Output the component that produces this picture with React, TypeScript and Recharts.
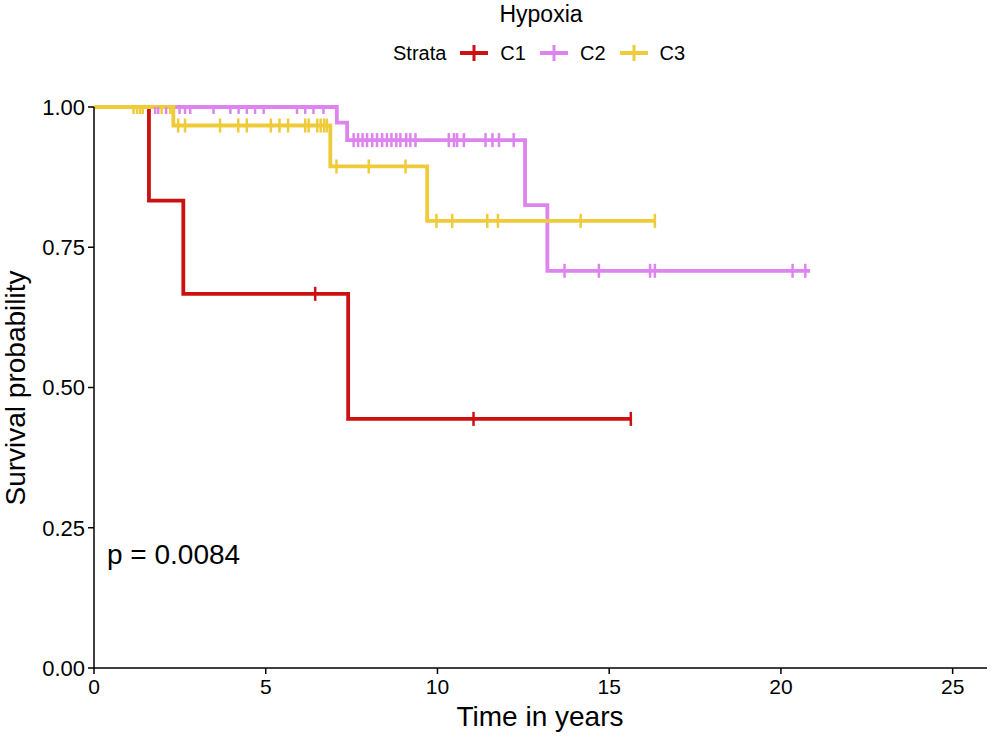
import React from 'react';
import { ComposedChart, Line, Scatter, XAxis, YAxis } from 'recharts';

// ---- data ----
const c1StepTimes = [0, 1.6, 2.6, 7.4, 15.63];
const c1StepValues = [1.0, 0.833, 0.667, 0.444, 0.444];
const c1Censor = [6.44, 11.05, 15.63];

const c2StepTimes = [0, 7.07, 7.37, 12.55, 13.2, 20.85];
const c2StepValues = [1.0, 0.972, 0.941, 0.825, 0.708, 0.708];
const c2Censor = [
  1.78, 1.87, 2.1, 2.49, 2.65, 2.8, 3.48, 3.97, 4.21, 4.45, 4.69, 4.94, 5.91, 6.15, 6.39, 6.68,
  7.56, 7.69, 7.82, 7.95, 8.1, 8.24, 8.39, 8.53, 8.66, 8.8, 8.92, 9.09, 9.21, 9.36,
  10.33, 10.48, 10.57, 10.77, 11.4, 11.6, 11.79, 12.22,
  13.7, 14.7, 16.19, 16.33, 20.34, 20.71,
];

const c3StepTimes = [0, 2.31, 6.88, 9.7, 16.35];
const c3StepValues = [1.0, 0.967, 0.894, 0.797, 0.797];
const c3Censor = [
  1.15, 1.25, 1.34, 1.42, 1.97, 2.22,
  2.45, 2.65, 3.67, 4.2, 4.45, 5.15, 5.4, 5.65, 6.15, 6.25, 6.5, 6.6, 6.7, 6.78,
  7.06, 8.0, 9.07,
  9.97, 10.43, 11.45, 11.76, 14.17, 16.33,
];

const xTicks = [0, 5, 10, 15, 20, 25];
const yTicks = [0, 0.25, 0.5, 0.75, 1];

const COLORS = { C1: '#CC1111', C2: '#DE84EE', C3: '#EFCB3A' };

// ---- helpers ----
const stepData = (t: number[], v: number[]) => t.map((x, i) => ({ x, y: v[i] }));
const survAt = (t: number[], v: number[], time: number) => {
  let val = v[0];
  for (let i = 0; i < t.length; i++) if (t[i] <= time) val = v[i];
  return val;
};
const censorData = (t: number[], v: number[], c: number[]) => c.map((x) => ({ x, y: survAt(t, v, x) }));

const c1Line = stepData(c1StepTimes, c1StepValues);
const c2Line = stepData(c2StepTimes, c2StepValues);
const c3Line = stepData(c3StepTimes, c3StepValues);
const c1Pts = censorData(c1StepTimes, c1StepValues, c1Censor);
const c2Pts = censorData(c2StepTimes, c2StepValues, c2Censor);
const c3Pts = censorData(c3StepTimes, c3StepValues, c3Censor);

const makeTick = (color: string) => (props: any) => {
  const { cx, cy, payload } = props;
  if (cx == null || cy == null) return <g />;
  const top = payload && payload.y >= 1 ? cy : cy - 7;
  return <line x1={cx} x2={cx} y1={top} y2={cy + 7} stroke={color} strokeWidth={2.5} />;
};

const FONT = '"Liberation Sans", Arial, Helvetica, sans-serif';

const LegendKey = ({ color }: { color: string }) => (
  <svg width={30} height={22} style={{ display: 'block' }}>
    <line x1={1} x2={29} y1={11} y2={11} stroke={color} strokeWidth={4} />
    <line x1={15} x2={15} y1={3} y2={19} stroke={color} strokeWidth={3} />
  </svg>
);

export default function App() {
  return (
    <div style={{ position: 'absolute', left: 0, top: 0, width: 997, height: 739, background: '#fff', fontFamily: FONT }}>
      <ComposedChart
        width={997}
        height={739}
        margin={{ top: 107, right: 10, bottom: 41, left: 30 }}
      >
        <XAxis
          dataKey="x"
          type="number"
          domain={[0, 26]}
          allowDataOverflow
          ticks={xTicks}
          tick={{ fill: '#000', fontSize: 21, fontFamily: FONT }}
          tickSize={6}
          tickMargin={5}
          height={30}
          axisLine={{ stroke: '#000', strokeWidth: 1.5 }}
          tickLine={{ stroke: '#000', strokeWidth: 1.5 }}
        />
        <YAxis
          type="number"
          domain={[0, 1]}
          ticks={yTicks}
          tickFormatter={(v: number) => v.toFixed(2)}
          tick={{ fill: '#000', fontSize: 22, fontFamily: FONT }}
          tickSize={6}
          tickMargin={3}
          width={64}
          axisLine={{ stroke: '#000', strokeWidth: 1.5 }}
          tickLine={{ stroke: '#000', strokeWidth: 1.5 }}
        />
        <Line data={c1Line} dataKey="y" type="stepAfter" stroke={COLORS.C1} strokeWidth={3.8} dot={false} isAnimationActive={false} />
        <Line data={c2Line} dataKey="y" type="stepAfter" stroke={COLORS.C2} strokeWidth={3.8} dot={false} isAnimationActive={false} />
        <Line data={c3Line} dataKey="y" type="stepAfter" stroke={COLORS.C3} strokeWidth={3.8} dot={false} isAnimationActive={false} />
        <Scatter data={c1Pts} dataKey="y" shape={makeTick(COLORS.C1)} isAnimationActive={false} />
        <Scatter data={c2Pts} dataKey="y" shape={makeTick(COLORS.C2)} isAnimationActive={false} />
        <Scatter data={c3Pts} dataKey="y" shape={makeTick(COLORS.C3)} isAnimationActive={false} />
      </ComposedChart>

      {/* Title */}
      <div style={{ position: 'absolute', left: 441, width: 200, top: 1, textAlign: 'center', fontSize: 23, color: '#000' }}>Hypoxia</div>

      {/* Legend */}
      <div style={{ position: 'absolute', left: 393, top: 41, display: 'flex', alignItems: 'center', fontSize: 20, color: '#000', height: 24 }}>
        <span style={{ marginRight: 13 }}>Strata</span>
        <LegendKey color={COLORS.C1} />
        <span style={{ marginLeft: 11, marginRight: 13 }}>C1</span>
        <LegendKey color={COLORS.C2} />
        <span style={{ marginLeft: 11, marginRight: 13 }}>C2</span>
        <LegendKey color={COLORS.C3} />
        <span style={{ marginLeft: 11 }}>C3</span>
      </div>

      {/* p-value */}
      <div style={{ position: 'absolute', left: 107, top: 539, fontSize: 28, color: '#000' }}>p = 0.0084</div>

      {/* Axis titles */}
      <div style={{ position: 'absolute', left: 390, width: 300, top: 701, textAlign: 'center', fontSize: 28, color: '#000' }}>Time in years</div>
      <div
        style={{
          position: 'absolute',
          left: 16,
          top: 388,
          transform: 'translate(-50%, -50%) rotate(-90deg)',
          whiteSpace: 'nowrap',
          fontSize: 28,
          color: '#000',
        }}
      >
        Survival probability
      </div>
    </div>
  );
}
